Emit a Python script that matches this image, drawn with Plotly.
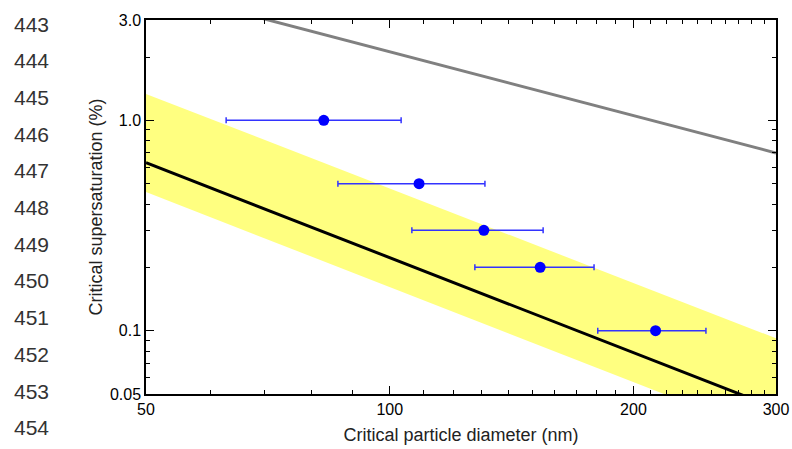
import plotly.graph_objects as go

# ---- data ----
diam = [82.9, 108.7, 130.7, 153.4, 213.0]          # critical particle diameter (nm)
ssat = [1.0, 0.5, 0.3, 0.2, 0.1]                    # critical supersaturation (%)
err_minus = [20.1, 22.4, 24.2, 26.0, 32.3]
err_plus = [20.4, 22.4, 24.0, 25.4, 32.8]

line_x = [50, 300]
black_y = [0.629, 0.0428]
gray_y = [4.26, 0.70]
band_upper = [1.335, 0.092]
band_lower = [0.456, 0.031]

x_tickvals = [50, 100, 200, 300]
x_ticktext = ["50", "100", "200", "300"]
x_minor = [60, 70, 80, 90, 110, 120, 130, 140, 150, 160, 170, 180, 190,
           210, 220, 230, 240, 250, 260, 270, 280, 290]
y_tickvals = [0.05, 0.1, 1.0, 3.0]
y_ticktext = ["0.05", "0.1", "1.0", "3.0"]
y_minor = [0.06, 0.07, 0.08, 0.09, 0.2, 0.3, 0.4, 0.5, 0.6, 0.7, 0.8, 0.9, 2.0]

line_numbers = ["443", "444", "445", "446", "447", "448", "449", "450",
                "451", "452", "453", "454"]

# ---- layout geometry (pixels) ----
W, H = 792, 449
L, R, T, B = 146, 776, 20, 394
pw, ph = R - L, B - T

fig = go.Figure()

fig.add_trace(go.Scatter(x=line_x, y=band_lower, mode="lines",
                         line=dict(width=0, color="#ffff80"),
                         showlegend=False, hoverinfo="skip"))
fig.add_trace(go.Scatter(x=line_x, y=band_upper, mode="lines",
                         line=dict(width=0, color="#ffff80"),
                         fill="tonexty", fillcolor="#ffff80",
                         showlegend=False, hoverinfo="skip"))
fig.add_trace(go.Scatter(x=line_x, y=black_y, mode="lines",
                         line=dict(width=3, color="black"), showlegend=False))
fig.add_trace(go.Scatter(x=line_x, y=gray_y, mode="lines",
                         line=dict(width=3, color="#808080"), showlegend=False))
fig.add_trace(go.Scatter(
    x=diam, y=ssat, mode="markers",
    marker=dict(size=11, color="#0000ff"),
    error_x=dict(type="data", symmetric=False, array=err_plus,
                 arrayminus=err_minus, color="#3333ff", thickness=1.5, width=3),
    showlegend=False))

tick_font = dict(family="Liberation Sans, Arial, sans-serif", size=16, color="black")
title_font = dict(family="Liberation Sans, Arial, sans-serif", size=18, color="#222")

fig.update_xaxes(
    type="log", range=[1.69897, 2.4771213], automargin=False,
    tickmode="array", tickvals=x_tickvals, ticktext=x_ticktext,
    ticks="inside", ticklen=8, tickwidth=1.2, tickcolor="black",
    minor=dict(tickmode="array", tickvals=x_minor, ticks="inside",
               ticklen=4, tickwidth=1, tickcolor="black", showgrid=False),
    showline=True, linecolor="black", linewidth=1.5, mirror="ticks",
    showgrid=False, zeroline=False, tickfont=tick_font,
    title=dict(text="Critical particle diameter (nm)", font=title_font, standoff=11),
)
fig.update_yaxes(
    type="log", range=[-1.30103, 0.4771213], automargin=False,
    tickmode="array", tickvals=y_tickvals, ticktext=y_ticktext,
    ticks="inside", ticklen=8, tickwidth=1.2, tickcolor="black",
    minor=dict(tickmode="array", tickvals=y_minor, ticks="inside",
               ticklen=4, tickwidth=1, tickcolor="black", showgrid=False),
    showline=True, linecolor="black", linewidth=1.5, mirror="ticks",
    showgrid=False, zeroline=False, tickfont=tick_font,
    title=dict(text="Critical supersaturation (%)", font=title_font, standoff=3),
)

annotations = []
for i, t in enumerate(line_numbers):
    py = 24 + 36.7 * i
    annotations.append(dict(
        text=t, xref="paper", yref="paper",
        x=(12 - L) / pw, y=(B - py) / ph,
        xanchor="left", yanchor="middle", showarrow=False,
        font=dict(family="Liberation Sans, Arial, sans-serif", size=21, color="#333")))

fig.update_layout(
    width=W, height=H,
    margin=dict(l=L, r=W - R, t=T, b=H - B, pad=0),
    paper_bgcolor="white", plot_bgcolor="white",
    annotations=annotations,
)

fig.write_html("out.html")
